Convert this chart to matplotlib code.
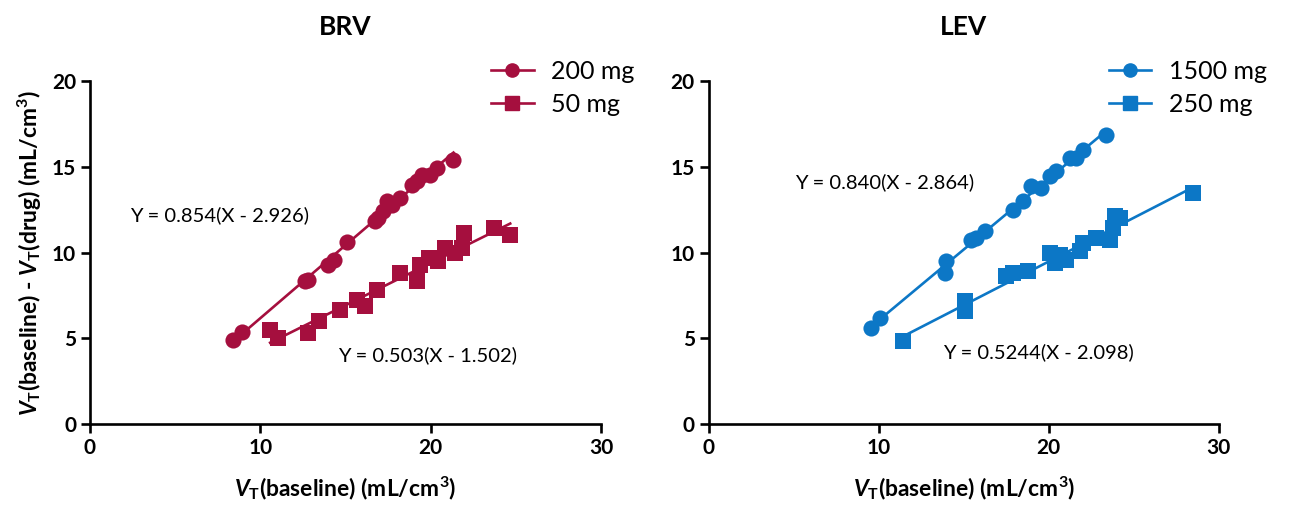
import numpy as np
from matplotlib import pyplot as plt

plt.rcParams['font.family'] = ['Lato', 'DejaVu Sans']
plt.rcParams['mathtext.fontset'] = 'custom'
plt.rcParams['mathtext.rm'] = 'Lato:bold'
plt.rcParams['mathtext.it'] = 'Lato:bold:italic'
plt.rcParams['mathtext.bf'] = 'Lato:bold'

# BRV
brv_200_x = [8.41, 8.91, 12.62, 12.82, 13.99, 14.29, 15.07, 16.73, 16.93, 17.22, 17.42,
             17.71, 18.2, 18.89, 19.18, 19.48, 19.96, 20.36, 21.33]
brv_200_y = [4.92, 5.36, 8.32, 8.42, 9.29, 9.58, 10.61, 11.82, 12.01, 12.40, 12.98,
             12.79, 13.18, 13.95, 14.15, 14.54, 14.54, 14.93, 15.41]
brv_50_x = [10.57, 11.06, 12.82, 13.41, 14.68, 15.66, 16.15, 16.83, 18.2, 19.18, 19.38,
            19.87, 20.45, 20.85, 21.43, 21.83, 21.92, 23.68, 24.66]
brv_50_y = [5.50, 5.01, 5.31, 5.99, 6.66, 7.25, 6.86, 7.83, 8.80, 8.32, 9.29,
            9.68, 9.49, 10.26, 9.97, 10.26, 11.14, 11.43, 11.04]

# LEV
lev_1500_x = [9.57, 10.06, 13.88, 13.98, 15.45, 15.75, 16.24, 17.90, 18.49, 18.98, 19.57,
              20.06, 20.45, 21.24, 21.63, 22.02, 23.39]
lev_1500_y = [5.60, 6.18, 8.80, 9.49, 10.75, 10.85, 11.24, 12.50, 12.98, 13.86, 13.76,
              14.44, 14.73, 15.51, 15.51, 15.99, 16.87]
lev_250_x = [11.43, 15.06, 15.06, 17.51, 17.90, 18.78, 20.06, 20.35, 20.65, 21.04, 21.82,
             22.02, 22.80, 23.59, 23.78, 23.88, 24.18, 28.49]
lev_250_y = [4.82, 6.57, 7.15, 8.61, 8.80, 8.90, 9.97, 9.39, 9.87, 9.58, 10.07,
             10.55, 10.85, 10.75, 11.43, 12.11, 12.01, 13.47]

eq_brv = ['Y = 0.854(X - 2.926)', 'Y = 0.503(X - 1.502)']
eq_lev = ['Y = 0.840(X - 2.864)', 'Y = 0.5244(X - 2.098)']

red = '#A50F3E'
blue = '#0C77C6'

fig = plt.figure(figsize=(12.91, 5.16), dpi=100)
ax1 = fig.add_axes([0.0697, 0.178, 0.396, 0.665])
ax2 = fig.add_axes([0.549, 0.178, 0.395, 0.665])


def fit_line(ax, xs, ys, color):
    # linear regression line across the data range
    k, b = np.polyfit(xs, ys, 1)
    xx = np.array([min(xs), max(xs)])
    ax.plot(xx, k * xx + b, color=color, lw=1.9, zorder=2)


def panel(ax, title, d1, d2, lab1, lab2, color):
    fit_line(ax, d1[0], d1[1], color)
    fit_line(ax, d2[0], d2[1], color)
    ax.scatter(d1[0], d1[1], marker='o', s=135, color=color, zorder=3, linewidths=0)
    ax.scatter(d2[0], d2[1], marker='s', s=120, color=color, zorder=3, linewidths=0)
    h1, = ax.plot([], [], color=color, lw=1.9, marker='o', ms=9.5)
    h2, = ax.plot([], [], color=color, lw=1.9, marker='s', ms=9.5)
    ax.legend([h1, h2], [lab1, lab2], loc='upper left', bbox_to_anchor=(0.765, 1.09),
              frameon=False, fontsize=18, handlelength=1.7, handletextpad=0.7,
              labelspacing=0.4, borderaxespad=0)
    ax.set_xlim(0, 30)
    ax.set_ylim(0, 20)
    ax.set_xticks([0, 10, 20, 30])
    ax.set_yticks([0, 5, 10, 15, 20])
    for s in ['top', 'right']:
        ax.spines[s].set_visible(False)
    for s in ['left', 'bottom']:
        ax.spines[s].set_linewidth(1.9)
    ax.tick_params(width=1.9, length=6.5, labelsize=15)
    for t in ax.get_xticklabels() + ax.get_yticklabels():
        t.set_fontweight('bold')
    ax.set_title(title, fontsize=19, fontweight='bold', y=1.11)
    ax.set_xlabel(r'$V_{\mathrm{T}}$(baseline) (mL/cm$^{3}$)', fontsize=16.5,
                  fontweight='bold', labelpad=12)


panel(ax1, 'BRV', (brv_200_x, brv_200_y), (brv_50_x, brv_50_y), '200 mg', '50 mg', red)
panel(ax2, 'LEV', (lev_1500_x, lev_1500_y), (lev_250_x, lev_250_y), '1500 mg', '250 mg', blue)

ax1.set_ylabel(r'$V_{\mathrm{T}}$(baseline) - $V_{\mathrm{T}}$(drug) (mL/cm$^{3}$)',
               fontsize=16.5, fontweight='bold', labelpad=6)

ax1.text(2.35, 12.2, eq_brv[0], fontsize=14.5, va='center')
ax1.text(14.56, 4.0, eq_brv[1], fontsize=14.5, va='center')
ax2.text(5.06, 14.1, eq_lev[0], fontsize=14.5, va='center')
ax2.text(13.76, 4.2, eq_lev[1], fontsize=14.5, va='center')

fig.savefig('out.png', dpi=100)
